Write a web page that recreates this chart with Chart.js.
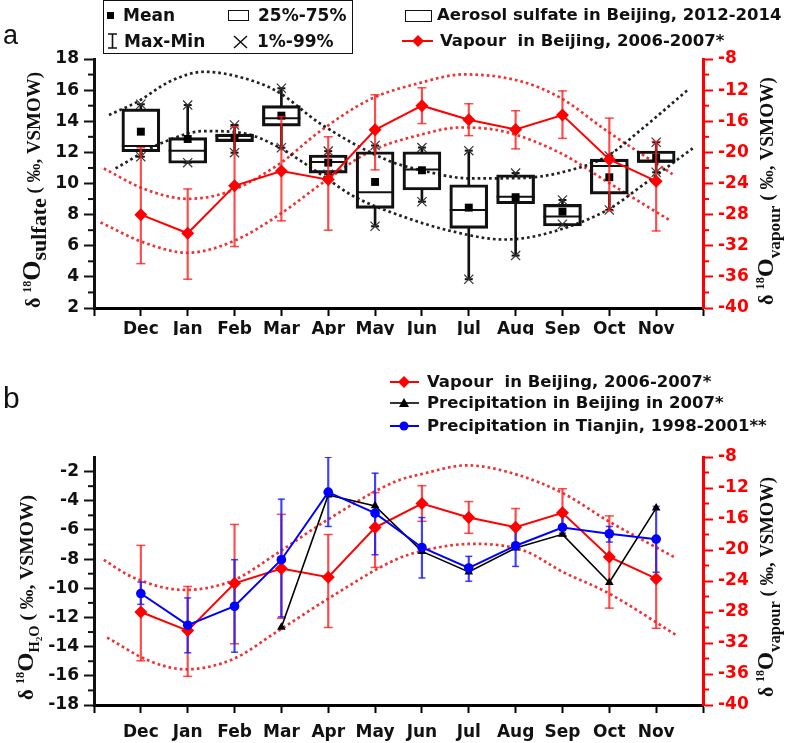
<!DOCTYPE html>
<html>
<head>
<meta charset="utf-8">
<title>Seasonal d18O of sulfate, vapour and precipitation</title>
<script src="https://cdn.jsdelivr.net/npm/chart.js@4.4.1/dist/chart.umd.min.js"></script>
<style>
  html, body { margin: 0; padding: 0; background: #fff; }
  #page { position: relative; width: 787px; height: 743px; overflow: hidden; }
  canvas { position: absolute; left: 0; }
  #chartA { top: 0; }
  #chartB { top: 335px; }
  .txt { position: absolute; white-space: pre; font-family: 'DejaVu Sans', sans-serif; font-weight: bold;
         font-size: 16.5px; line-height: 20px; color: #111; }
  .sym { position: absolute; }
  .panel { position: absolute; font-family: 'Liberation Sans', Arial, sans-serif; color: #111; line-height: 1; }
</style>
</head>
<body>
<div id="page">
  <canvas id="chartA" width="787" height="335"></canvas>
  <canvas id="chartB" width="787" height="408"></canvas>

  <div class="panel" style="left:3px;top:22px;font-size:27px;">a</div>
  <div class="panel" style="left:3px;top:383px;font-size:30px;">b</div>

  <!-- statistics key, panel a -->
  <div class="sym" style="left:103px;top:0;width:250px;height:54px;border:1.5px solid #111;box-sizing:border-box;"></div>
  <div class="sym" style="left:107px;top:12px;width:7px;height:7px;background:#000;"></div>
  <div class="txt" style="left:123px;top:5px;font-size:17px;">Mean</div>
  <div class="sym" style="left:228px;top:10px;width:21px;height:11px;border:1.5px solid #111;box-sizing:border-box;"></div>
  <div class="txt" style="left:258px;top:5px;font-size:17px;">25%-75%</div>
  <svg class="sym" style="left:107px;top:33px" width="11" height="16"><path d="M1 1H10M5.5 1V15M1 15H10" stroke="#111" stroke-width="1.6" fill="none"/></svg>
  <div class="txt" style="left:124px;top:31px;font-size:17px;">Max-Min</div>
  <svg class="sym" style="left:233px;top:35px" width="15" height="14"><path d="M1 1L14 13M14 1L1 13" stroke="#111" stroke-width="1.5" fill="none"/></svg>
  <div class="txt" style="left:257px;top:31px;font-size:17px;">1%-99%</div>

  <!-- series key, panel a -->
  <div class="sym" style="left:405px;top:10px;width:27px;height:12px;border:1.5px solid #111;box-sizing:border-box;"></div>
  <div class="txt" style="left:437px;top:5px;">Aerosol sulfate in Beijing, 2012-2014</div>
  <svg class="sym" style="left:402px;top:34px" width="31" height="14"><path d="M0 7H31" stroke="#ff0000" stroke-width="2"/><path d="M16 1L22 7L16 13L10 7Z" fill="#ff0000"/></svg>
  <div class="txt" style="left:440px;top:31px;">Vapour  in Beijing, 2006-2007*</div>

  <!-- series key, panel b -->
  <svg class="sym" style="left:390px;top:375px" width="29" height="14"><path d="M0 7H29" stroke="#ff0000" stroke-width="2"/><path d="M14 1L20 7L14 13L8 7Z" fill="#ff0000"/></svg>
  <div class="txt" style="left:427px;top:372px;">Vapour  in Beijing, 2006-2007*</div>
  <svg class="sym" style="left:390px;top:396px" width="29" height="14"><path d="M0 7H29" stroke="#000" stroke-width="1.6"/><path d="M14 2L19 11H9Z" fill="#000"/></svg>
  <div class="txt" style="left:427px;top:393px;">Precipitation in Beijing in 2007*</div>
  <svg class="sym" style="left:390px;top:419px" width="29" height="14"><path d="M0 7H29" stroke="#0000ff" stroke-width="2"/><circle cx="14" cy="7" r="4.5" fill="#0000ff"/></svg>
  <div class="txt" style="left:427px;top:416px;">Precipitation in Tianjin, 1998-2001**</div>
</div>

<script>
'use strict';

// Months along the x axis (slot 1 = Dec ... slot 12 = Nov):
var months = ['Dec', 'Jan', 'Feb', 'Mar', 'Apr', 'May', 'Jun', 'Jul', 'Aug', 'Sep', 'Oct', 'Nov'];
var monthSlots = [0, 1, 2, 3, 4, 5, 6, 7, 8, 9, 10, 11, 12, 13];

// Tick labels:
var sulfateTicks = [2, 4, 6, 8, 10, 12, 14, 16, 18];
var vapourTicks = [-40, -36, -32, -28, -24, -20, -16, -12, -8];
var waterTicks = [-18, -16, -14, -12, -10, -8, -6, -4, -2];

// Aerosol sulfate d18O box statistics (left axis, panel a):
var sulfateQ1 = [12.04, 11.3, 12.69, 13.69, 10.67, 8.4, 9.58, 7.12, 8.7, 7.27, 9.32, 11.36];
var sulfateQ3 = [14.8, 12.95, 13.18, 15.0, 11.83, 12.04, 12.04, 9.92, 10.56, 8.66, 11.57, 12.09];
var sulfateMedian = [12.41, 12.11, 13.05, 14.19, 11.38, 9.43, 10.9, 8.3, 9.15, 7.88, 11.12, 11.4];
var sulfateMean = [13.33, 12.86, 12.94, 14.36, 11.34, 10.1, 10.85, 8.45, 9.12, 8.19, 10.4, 11.66];
var sulfateP99 = [15.09, 15.04, 13.76, 16.12, 12.08, 12.44, 12.31, 12.11, 10.67, 8.94, 11.77, 12.65];
var sulfateP1 = [11.72, 11.34, 11.98, 12.3, 10.6, 7.25, 8.83, 3.85, 5.37, 7.38, 8.3, 10.72];

// Vapour d18O in Beijing (right axis, both panels):
var vapour = [-28.0, -30.4, -24.3, -22.4, -23.5, -17.1, -14.0, -15.8, -17.05, -15.2, -20.9, -23.7];
var vapourHigh = [-19.4, -24.7, -16.7, -15.4, -18.0, -12.6, -11.7, -13.75, -14.65, -12.1, -15.6, -18.6];
var vapourLow = [-34.3, -36.3, -32.1, -28.8, -30.0, -22.25, -16.3, -17.85, -19.55, -18.2, -27.5, -30.1];

// Precipitation d18O (left axis, panel b):
var precipBeijing = [null, null, null, -12.67, -3.6, -4.35, -7.47, -8.88, -7.24, -6.3, -9.6, -4.5];
var precipTianjin = [-10.36, -12.53, -11.23, -8.04, -3.41, -4.85, -7.2, -8.61, -7.08, -5.83, -6.26, -6.63];
var tianjinHigh = [-9.57, -10.66, -8.04, -3.89, -1.02, -2.11, -5.15, -7.81, -5.94, -5.0, -5.76, -4.39];
var tianjinLow = [-11.1, -14.42, -14.38, -11.96, -5.76, -7.7, -9.29, -9.52, -8.5, -6.22, -6.83, -8.9];

// Dotted seasonal envelopes (x in month slots):
var sulfateUpperX = [0.32, 0.93, 1.64, 2.36, 3.21, 3.92, 4.82, 6.25, 6.96, 8.03, 9.1, 9.96, 10.96, 11.67, 12.67];
var sulfateUpperY = [14.4, 15.26, 16.59, 17.18, 16.76, 15.9, 13.87, 11.51, 10.87, 10.33, 10.35, 10.7, 11.77, 13.44, 16.0];
var sulfateLowerX = [0.46, 1.43, 2.36, 3.21, 3.92, 4.93, 5.53, 6.6, 7.67, 8.74, 9.53, 10.96, 11.67, 12.78];
var sulfateLowerY = [10.97, 12.58, 13.37, 13.22, 12.37, 10.4, 9.2, 7.87, 6.91, 6.4, 6.69, 8.3, 9.8, 12.26];
var vapourUpperAX = [0.21, 1.07, 2.0, 2.85, 3.93, 4.82, 5.89, 6.96, 7.89, 9.1, 9.96, 10.96, 12.35];
var vapourUpperAY = [-22.07, -24.7, -25.97, -25.1, -21.6, -17.3, -13.2, -11.07, -9.98, -10.85, -13.0, -17.3, -22.8];
var vapourLowerAX = [0.14, 1.07, 2.0, 3.0, 3.93, 5.0, 5.89, 6.96, 7.82, 8.74, 9.96, 10.96, 12.31];
var vapourLowerAY = [-29.0, -31.6, -32.9, -31.35, -28.1, -23.4, -19.9, -17.75, -16.8, -17.3, -20.1, -23.8, -28.8];
var vapourUpperBX = [0.21, 0.82, 1.93, 2.96, 3.89, 4.96, 6.42, 7.03, 7.96, 8.96, 10.03, 10.96, 12.38];
var vapourUpperBY = [-21.27, -23.5, -25.15, -23.95, -20.5, -16.2, -11.2, -10.15, -9.07, -10.15, -12.73, -16.2, -20.9];
var vapourLowerBX = [0.28, 1.18, 1.96, 2.96, 3.89, 5.1, 6.42, 7.03, 8.1, 9.17, 10.03, 10.96, 12.46];
var vapourLowerBY = [-31.3, -34.3, -35.4, -34.1, -30.6, -25.9, -21.3, -20.07, -19.2, -20.07, -22.9, -25.5, -31.1];

var RED = '#ff0000';
var RED_ERR = 'rgba(255, 30, 30, 0.8)';
var RED_DOT = '#ee3333';
var BLUE = '#0000ff';
var INK = '#111111';
var TICK_FONT = { family: 'DejaVu Sans', weight: 'bold', size: 17 };
var SERIF = '"Liberation Serif", "DejaVu Serif", serif';

// Helpers to turn the arrays into Chart.js points:
var points = function points(values) {
    return values.map(function (v, i) { return { x: i + 1, y: v }; });
};
var spans = function spans(lo, hi) {
    return lo.map(function (v, i) { return { x: i + 1, y: [v, hi[i]] }; });
};
var curve = function curve(xs, ys) {
    return xs.map(function (x, i) { return { x: x, y: ys[i] }; });
};

var dotted = function dotted(xs, ys, color, axis) {
    return {
        type: 'line', data: curve(xs, ys), borderColor: color, borderWidth: 2.7,
        borderDash: [2.7, 3], borderCapStyle: 'butt', pointRadius: 0,
        cubicInterpolationMode: 'monotone', yAxisID: axis, order: 30
    };
};
var stems = function stems(lo, hi, color, width, axis, order) {
    return {
        type: 'bar', data: spans(lo, hi), backgroundColor: color, borderWidth: 0,
        barThickness: width, grouped: false, yAxisID: axis, order: order
    };
};
var marks = function marks(values, style, radius, color, width, axis, order) {
    return {
        type: 'line', data: points(values), showLine: false, pointStyle: style,
        pointRadius: radius, pointHoverRadius: radius, pointBorderColor: color,
        pointBackgroundColor: color, pointBorderWidth: width, yAxisID: axis, order: order
    };
};
var series = function series(values, color, lineWidth, style, radius, axis, order) {
    return {
        type: 'line', data: points(values), borderColor: color, borderWidth: lineWidth,
        backgroundColor: color, pointStyle: style, pointRadius: radius, pointHoverRadius: radius,
        pointBackgroundColor: color, pointBorderColor: color, pointBorderWidth: 0,
        spanGaps: false, tension: 0, yAxisID: axis, order: order
    };
};

// Scales:
var xScale = function xScale(height, pad) {
    return {
        type: 'linear', min: 0, max: 13, offset: false,
        afterBuildTicks: function (s) { s.ticks = monthSlots.map(function (v) { return { value: v }; }); },
        afterFit: function (s) { s.height = height; },
        grid: { drawOnChartArea: false, offset: false, tickLength: 8, tickWidth: 2, tickColor: '#000' },
        border: { color: '#000', width: 3 },
        ticks: {
            autoSkip: false, maxRotation: 0, padding: pad, color: INK, font: TICK_FONT,
            callback: function (v) { return months[v - 1] || ''; }
        }
    };
};
var yScale = function yScale(position, min, max, ticks, color, width) {
    return {
        type: 'linear', position: position, min: min, max: max,
        afterBuildTicks: function (s) { s.ticks = ticks.map(function (v) { return { value: v }; }); },
        afterFit: function (s) { s.width = width; },
        grid: { drawOnChartArea: false, tickLength: 10, tickWidth: 2, tickColor: color },
        border: { color: color, width: 3 },
        ticks: { padding: 5, color: color, font: TICK_FONT }
    };
};

// Short ticks half-way between the labelled ones:
var minorTicks = {
    id: 'minorTicks',
    afterDraw: function (chart) {
        var ctx = chart.ctx;
        ['y', 'y2'].forEach(function (id) {
            var s = chart.scales[id];
            var left = s.options.position === 'left';
            var x0 = left ? s.right : s.left;
            ctx.save();
            ctx.strokeStyle = s.options.border.color;
            ctx.lineWidth = 2;
            for (var i = 0; i < s.ticks.length - 1; i++) {
                var py = s.getPixelForValue((s.ticks[i].value + s.ticks[i + 1].value) / 2);
                ctx.beginPath();
                ctx.moveTo(x0, py);
                ctx.lineTo(x0 + (left ? -6 : 6), py);
                ctx.stroke();
            }
            ctx.restore();
        });
    }
};

// Rotated axis titles with super- and subscripts, squeezed to a given length:
var drawTitle = function drawTitle(ctx, x, yBottom, length, parts) {
    ctx.save();
    ctx.translate(x, yBottom);
    ctx.rotate(-Math.PI / 2);
    ctx.fillStyle = INK;
    ctx.textBaseline = 'alphabetic';
    var total = 0;
    parts.forEach(function (p) {
        ctx.font = 'bold ' + p[1] + 'px ' + SERIF;
        total += ctx.measureText(p[0]).width;
    });
    ctx.scale(Math.min(1.15, length / total), 1);
    var u = 0;
    parts.forEach(function (p) {
        ctx.font = 'bold ' + p[1] + 'px ' + SERIF;
        ctx.fillText(p[0], u, p[2]);
        u += ctx.measureText(p[0]).width;
    });
    ctx.restore();
};
var titles = function titles(list) {
    return {
        id: 'axisTitles',
        afterDraw: function (chart) {
            list.forEach(function (t) { drawTitle(chart.ctx, t[0], t[1], t[2], t[3]); });
        }
    };
};

var vapourPart = [['δ ', 20, 0], ['18', 12, -9], ['O', 24, 0], ['vapour', 17, 7], [' ( ‰, VSMOW)', 19, 0]];

// Panel a: sulfate boxes with vapour on the right axis
var datasetsA = [
    dotted(sulfateUpperX, sulfateUpperY, '#222', 'y'),
    dotted(sulfateLowerX, sulfateLowerY, '#222', 'y'),
    dotted(vapourUpperAX, vapourUpperAY, RED_DOT, 'y2'),
    dotted(vapourLowerAX, vapourLowerAY, RED_DOT, 'y2'),
    stems(sulfateQ3, sulfateP99, INK, 2, 'y', 12),
    stems(sulfateP1, sulfateQ1, INK, 2, 'y', 12),
    {
        type: 'bar', data: spans(sulfateQ1, sulfateQ3), backgroundColor: 'rgba(255,255,255,0)',
        borderColor: INK, borderWidth: 2.5, borderSkipped: false, barThickness: 38,
        grouped: false, yAxisID: 'y', order: 10
    },
    marks(sulfateMedian, 'line', 19, INK, 2, 'y', 9),
    marks(sulfateMean, 'rect', 5.6, '#000', 0, 'y', 8),
    marks(sulfateP99, 'crossRot', 6.5, '#333', 1.2, 'y', 8),
    marks(sulfateP1, 'crossRot', 6.5, '#333', 1.2, 'y', 8),
    marks(sulfateP99, 'line', 4, INK, 2, 'y', 8),
    marks(sulfateP1, 'line', 4, INK, 2, 'y', 8),
    stems(vapourLow, vapourHigh, RED_ERR, 1.5, 'y2', 3),
    marks(vapourHigh, 'line', 4.5, RED_ERR, 1.5, 'y2', 3),
    marks(vapourLow, 'line', 4.5, RED_ERR, 1.5, 'y2', 3),
    series(vapour, RED, 2, 'rectRot', 6.5, 'y2', 1)
];

new Chart(document.getElementById('chartA'), {
    type: 'bar',
    data: { datasets: datasetsA },
    options: {
        responsive: false, animation: false, devicePixelRatio: 1,
        layout: { padding: { top: 59, left: 0, right: 0, bottom: 0 } },
        plugins: { legend: { display: false }, tooltip: { enabled: false } },
        scales: {
            x: xScale(27, 3),
            y: yScale('left', 2, 18, sulfateTicks, INK, 94),
            y2: yScale('right', -40, -8, vapourTicks, RED, 84)
        }
    },
    plugins: [minorTicks, titles([
        [40, 308, 236, [['δ ', 20, 0], ['18', 12, -9], ['O', 26, 0], ['sulfate', 22, 6], [' ( ‰, VSMOW)', 19, 0]]],
        [773, 305, 228, vapourPart]
    ])]
});

// Panel b: precipitation with vapour on the right axis
var datasetsB = [
    dotted(vapourUpperBX, vapourUpperBY, RED_DOT, 'y2'),
    dotted(vapourLowerBX, vapourLowerBY, RED_DOT, 'y2'),
    stems(vapourLow, vapourHigh, RED_ERR, 1.5, 'y2', 12),
    marks(vapourHigh, 'line', 4.5, RED_ERR, 1.5, 'y2', 12),
    marks(vapourLow, 'line', 4.5, RED_ERR, 1.5, 'y2', 12),
    stems(tianjinLow, tianjinHigh, 'rgba(30, 30, 255, 0.85)', 1.5, 'y', 11),
    marks(tianjinHigh, 'line', 3.5, 'rgba(30, 30, 255, 0.85)', 1.5, 'y', 11),
    marks(tianjinLow, 'line', 3.5, 'rgba(30, 30, 255, 0.85)', 1.5, 'y', 11),
    series(vapour, RED, 2, 'rectRot', 6.5, 'y2', 3),
    series(precipBeijing, '#000', 1.6, 'triangle', 5, 'y', 2),
    series(precipTianjin, BLUE, 2, 'circle', 4.8, 'y', 1)
];

new Chart(document.getElementById('chartB'), {
    type: 'bar',
    data: { datasets: datasetsB },
    options: {
        responsive: false, animation: false, devicePixelRatio: 1,
        layout: { padding: { top: 122, left: 0, right: 0, bottom: 0 } },
        plugins: { legend: { display: false }, tooltip: { enabled: false } },
        scales: {
            x: xScale(38, 9),
            y: yScale('left', -18, -1, waterTicks, INK, 94),
            y2: yScale('right', -40, -8, vapourTicks, RED, 84)
        }
    },
    plugins: [minorTicks, titles([
        [33, 365, 205, [['δ ', 20, 0], ['18', 12, -9], ['O', 24, 0], ['H', 14, 6], ['2', 9, 9], ['O', 14, 6], [' ( ‰, VSMOW)', 19, 0]]],
        [773, 362, 220, vapourPart]
    ])]
});
</script>
</body>
</html>
